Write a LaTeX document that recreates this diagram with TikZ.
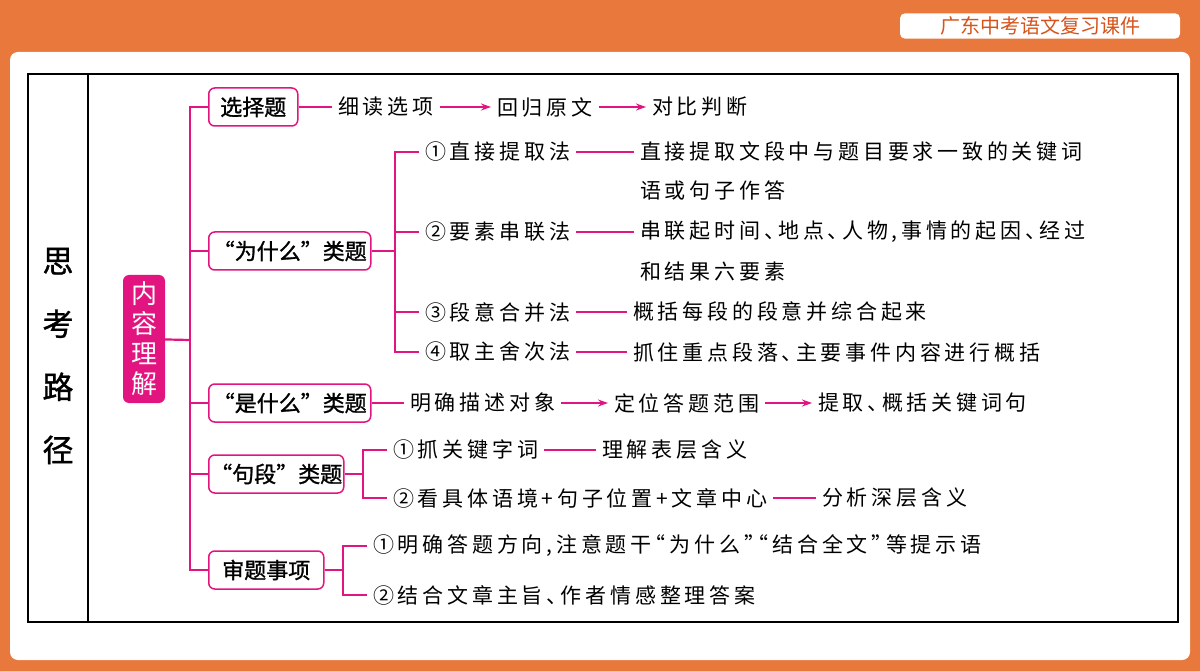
\documentclass[tikz,border=0pt]{standalone}
\usepackage{fontspec}
\setmainfont{Noto Sans CJK SC}
\newfontfamily\zhongti{Noto Sans CJK SC}[FakeBold=1.2]
\usetikzlibrary{arrows.meta}

\definecolor{cheng}{RGB}{232,120,60}
\definecolor{yanhong}{RGB}{226,20,128}
\definecolor{biaoti}{RGB}{214,84,28}

\newcommand{\zhengwen}{\fontsize{21}{21}\selectfont\addfontfeature{LetterSpace=18,RawFeature=+halt}}

\tikzset{
  kuang/.style={draw=yanhong, line width=1.5pt, rounded corners=6pt, fill=white,
    anchor=west, minimum height=38pt, inner xsep=0pt, font=\fontsize{22}{22}\selectfont\zhongti},
  wenzi/.style={anchor=west, inner xsep=6pt, inner ysep=0pt, font=\zhengwen},
  xian/.style={draw=yanhong, line width=1.3pt},
  zhugan/.style={draw=yanhong, line width=2.2pt},
  jiantou/.style={xian, -{Stealth[length=10pt, width=7pt]}}
}

\begin{document}
\begin{tikzpicture}[x=1pt, y=-1pt]
				\useasboundingbox (0,0) rectangle (1200,671);
				
				% Фон и рамка
				\fill[cheng] (0,0) rectangle (1200,671);
				\fill[white, rounded corners=8pt] (10,52) rectangle (1190,660);
				\node[fill=white, rounded corners=5pt, minimum width=280pt, minimum height=24pt,
				  text=biaoti, font=\fontsize{20}{20}\selectfont] (biaoti) at (1040,26) {广东中考语文复习课件};
				\draw[line width=1.2pt] (28,74) rectangle (1178,622);
				\draw[line width=1.2pt] (88,74) -- (88,622);
				
				% Левая колонка
				\node[align=center, font=\fontsize{31}{63}\selectfont\zhongti] (silu) at (58,356) {思\\考\\路\\径};
				\node[fill=yanhong, text=white, rounded corners=6pt, align=center, minimum width=42pt,
				  minimum height=128pt, inner sep=2pt, font=\fontsize{26}{30}\selectfont] (neirong) at (144,339) {内\\容\\理\\解};
				
				% Ветви
				\node[kuang, minimum width=89pt] (xuanze) at (208,107) {选择题};
				\node[kuang, minimum width=162pt] (weishenme) at (208,251) {“为什么”类题};
				\node[kuang, minimum width=162pt] (shishenme) at (208,403) {“是什么”类题};
				\node[kuang, minimum width=135pt] (juduan) at (208,474) {“句段”类题};
				\node[kuang, minimum width=115pt] (shenti) at (208,570) {审题事项};
				
				\coordinate (zg) at (190,340);
				\draw[zhugan] (neirong) -- (zg);
				\draw[zhugan] (xuanze.west) -| (zg) |- (shenti.west);
				\draw[zhugan] (zg) |- (weishenme.west);
				\draw[zhugan] (zg) |- (shishenme.west);
				\draw[zhugan] (zg) |- (juduan.west);
				
				% Выбор ответа
				\node[wenzi] (xidu) at (332,107) {细读选项};
				\node[wenzi] (huigui) at (491,107) {回归原文};
				\node[wenzi] (duibi) at (646,107) {对比判断};
				\draw[xian] (xuanze) -- (xidu);
				\draw[jiantou] (xidu) -- (huigui);
				\draw[jiantou] (huigui) -- (duibi);
				
				% «Почему»
				\coordinate (jw) at (395,251);
				\node[wenzi] (fa1) at (419,152) {①直接提取法};
				\node[wenzi] (fa2) at (419,232) {②要素串联法};
				\node[wenzi] (fa3) at (419,312) {③段意合并法};
				\node[wenzi] (fa4) at (419,352) {④取主舍次法};
				\node[wenzi] (shuo1) at (634,152) {直接提取文段中与题目要求一致的关键词};
				\node[wenzi] (shuo1b) at (634,191) {语或句子作答};
				\node[wenzi] (shuo2) at (634,232) {串联起时间、地点、人物,事情的起因、经过};
				\node[wenzi] (shuo2b) at (634,272) {和结果六要素};
				\node[wenzi] (shuo3) at (627,312) {概括每段的段意并综合起来};
				\node[wenzi] (shuo4) at (627,352) {抓住重点段落、主要事件内容进行概括};
				\draw[xian] (weishenme) -- (jw);
				\draw[xian] (fa1.west) -| (jw) |- (fa4.west);
				\draw[xian] (jw) |- (fa2.west);
				\draw[xian] (jw) |- (fa3.west);
				\draw[xian] (fa1) -- (shuo1);
				\draw[xian] (fa2) -- (shuo2);
				\draw[xian] (fa3) -- (shuo3);
				\draw[xian] (fa4) -- (shuo4);
				
				% «Что это»
				\node[wenzi] (miaoshu) at (404,403) {明确描述对象};
				\node[wenzi] (dingwei) at (608,403) {定位答题范围};
				\node[wenzi] (tiqu) at (812,403) {提取、概括关键词句};
				\draw[xian] (shishenme) -- (miaoshu);
				\draw[jiantou] (miaoshu) -- (dingwei);
				\draw[jiantou] (dingwei) -- (tiqu);
				
				% Предложения и абзацы
				\coordinate (jj) at (363,474);
				\node[wenzi] (zhua) at (387,450) {①抓关键字词};
				\node[wenzi] (kan) at (387,498) {②看具体语境+句子位置+文章中心};
				\node[wenzi] (biaoceng) at (596,450) {理解表层含义};
				\node[wenzi] (shenceng) at (816,498) {分析深层含义};
				\draw[xian] (juduan) -- (jj);
				\draw[xian] (zhua.west) -| (jj) |- (kan.west);
				\draw[xian] (zhua) -- (biaoceng);
				\draw[xian] (kan) -- (shenceng);
				
				% Что учесть
				\coordinate (js) at (343,570);
				\node[wenzi] (mingque) at (367,546) {①明确答题方向,注意题干“为什么”“结合全文”等提示语};
				\node[wenzi] (jiehe) at (367,595) {②结合文章主旨、作者情感整理答案};
				\draw[xian] (shenti) -- (js);
				\draw[xian] (mingque.west) -| (js) |- (jiehe.west);
			\end{tikzpicture}
\end{document}
